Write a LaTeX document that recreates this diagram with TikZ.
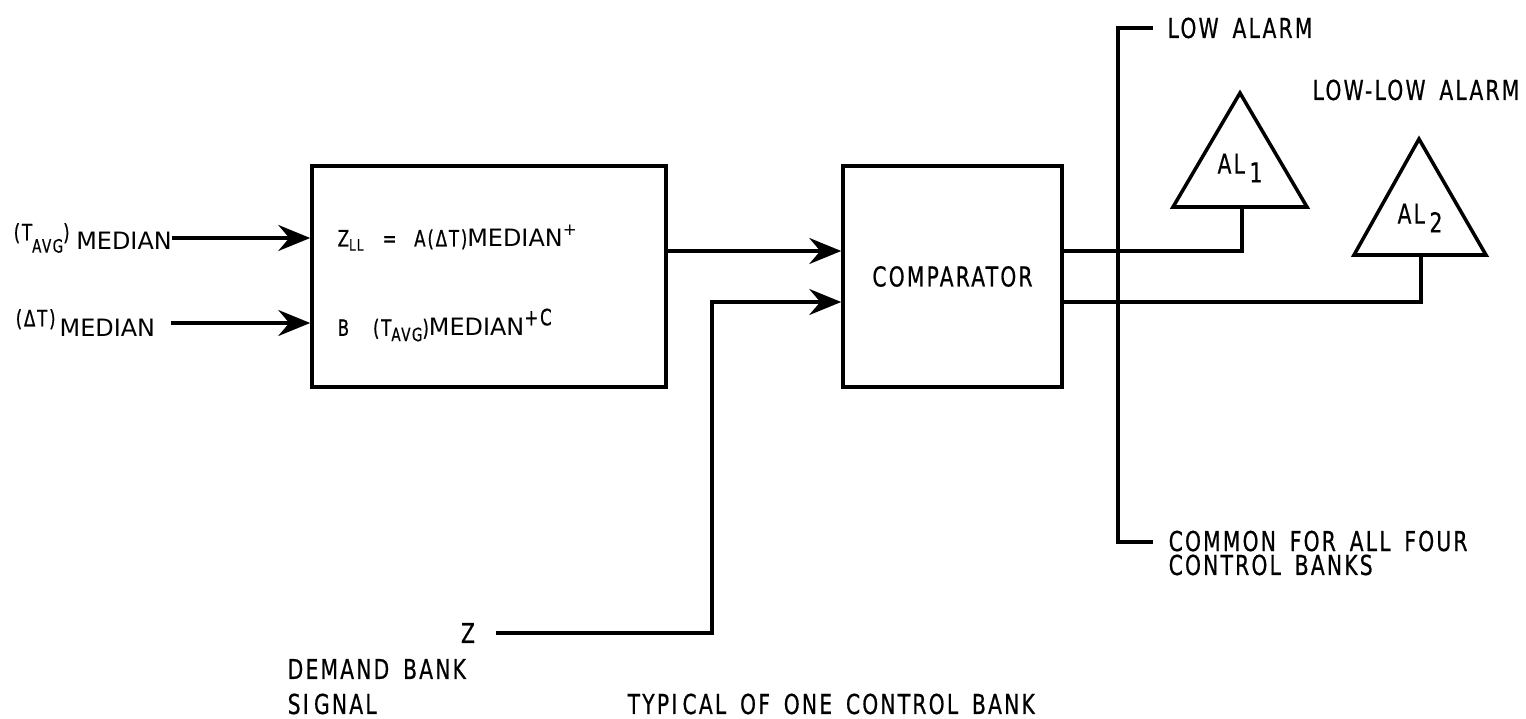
\documentclass[tikz,border=0pt]{standalone}
\usepackage{fontspec}
\setmainfont{DejaVu Sans}
\newfontfamily\letterfont{DejaVu Sans}[FakeStretch=0.74, LetterSpace=8, WordSpace=1.6, FakeBold=0.6]
\newcommand{\smalllet}{\letterfont\fontsize{6.4}{7}\selectfont}
\newcommand{\tinylet}{\letterfont\fontsize{5.2}{6}\selectfont}
\usetikzlibrary{positioning}
\usetikzlibrary{arrows.meta}

\begin{document}
\begin{tikzpicture}[
	wire/.style={line width=1pt},
	signal/.style={wire, -{Stealth[length=3.2mm, width=2.6mm, inset=1.1mm]}},
	block/.style={draw, line width=1pt, minimum height=2.21cm, inner sep=0pt},
	lettering/.style={font=\letterfont\fontsize{7.8}{8.5}\selectfont, inner sep=0pt},
	medfont/.style={font=\fontsize{6.8}{8}\selectfont, inner sep=0pt},
	]
	\useasboundingbox (0,0) rectangle (15.26,7.18);
	
	% ---------------------
	% Blocks
	\node[block, minimum width=3.54cm] (Formula) at (4.89,4.415) {};
	\node[block, minimum width=2.19cm, lettering] (Comparator) at (9.525,4.415) {COMPARATOR};
	
	% formula inside the first block
	\node[medfont, anchor=west] (LineA) at (3.37,4.80) {{\smalllet Z\textsubscript{LL}\; =\; A(ΔT)}MEDIAN\textsuperscript{+}};
	\node[medfont, anchor=west] (LineB) at (3.37,3.93) {{\smalllet B\;\; (T}\raisebox{-1.5pt}{\tinylet AVG}{\smalllet )}MEDIAN\raisebox{3pt}{\smalllet +C}};
	
	% ---------------------
	% Inputs
	\node[medfont, anchor=west] (TAvg) at (0.13,4.80) {\raisebox{2.5pt}{\smalllet (T}\raisebox{-1pt}{\tinylet AVG}\raisebox{2.5pt}{\smalllet )}\;MEDIAN};
	\node[medfont, anchor=west] (DeltaT) at (0.15,3.95) {\raisebox{3pt}{\smalllet (ΔT)}\,MEDIAN};
	
	\draw[signal] (TAvg.east) -- (Formula.west |- TAvg.east);
	\draw[signal] ([xshift=1.5mm]DeltaT.east) -- (Formula.west |- DeltaT.east);
	
	\draw[signal] ([yshift=2.55mm]Formula.east) -- ([yshift=2.55mm]Comparator.west);
	
	% demand bank signal
	\node[lettering] (Demand) at (4.68,0.85) {Z};
	\path (Demand) +(2.44cm,0.00cm) coordinate (DemandBend);
	\draw[signal] ([xshift=2mm]Demand.east) -- (DemandBend) |- ([yshift=-2.55mm]Comparator.west);
	
	\node[lettering, anchor=west] (DemandText) at (2.87,0.49) {DEMAND BANK};
	\node[lettering, anchor=west] (SignalText) at (2.87,0.14) {SI\kern1.5pt GNAL};
	\node[lettering, anchor=west] (Caption) at (6.27,0.14) {TYPI\kern1.5pt CAL OF ONE CONTROL BANK};
	
	% ---------------------
	% Alarm bus
	\coordinate (BusTop) at (11.18,6.90);
	\path (BusTop) +(0.00cm,-5.14cm) coordinate (BusBottom);
	
	\node[lettering, right=4.9mm of BusTop] (LowAlarm) {LOW ALARM};
	\node[lettering, anchor=north west, align=left, font=\letterfont\fontsize{7.8}{6.8}\selectfont] (Common) at (11.68,1.88) {COMMON FOR ALL FOUR\\CONTROL BANKS};
	
	\draw[wire] ([xshift=-1.4mm]LowAlarm.west) -- (BusTop) -- (BusBottom) -- ([xshift=-1.5mm]Common.west |- BusBottom);
	
	% ---------------------
	% Alarm units
	\coordinate (AlarmOneFoot) at (12.42,5.11);
	\coordinate (AlarmTwoFoot) at (14.21,4.63);
	
	\draw[wire, line join=miter] (AlarmOneFoot) ++(-0.69cm,0.00cm) -- ++(0.67cm,1.14cm) -- ++(0.67cm,-1.14cm) -- cycle;
	\draw[wire, line join=miter] (AlarmTwoFoot) ++(-0.67cm,0.00cm) -- ++(0.65cm,1.16cm) -- ++(0.67cm,-1.16cm) -- cycle;
	
	\node[lettering] (AlarmOne) at (12.40,5.50) {AL\,\raisebox{-2.5pt}{1}};
	\node[lettering] (AlarmTwo) at (14.20,5.00) {AL\,\raisebox{-2.5pt}{2}};
	
	\node[lettering, anchor=west] (LowLowAlarm) at (13.12,6.28) {LOW-LOW ALARM};
	
	\draw[wire] ([yshift=2.55mm]Comparator.east) -| (AlarmOneFoot);
	\draw[wire] ([yshift=-2.55mm]Comparator.east) -| (AlarmTwoFoot);
	
\end{tikzpicture}
\end{document}
